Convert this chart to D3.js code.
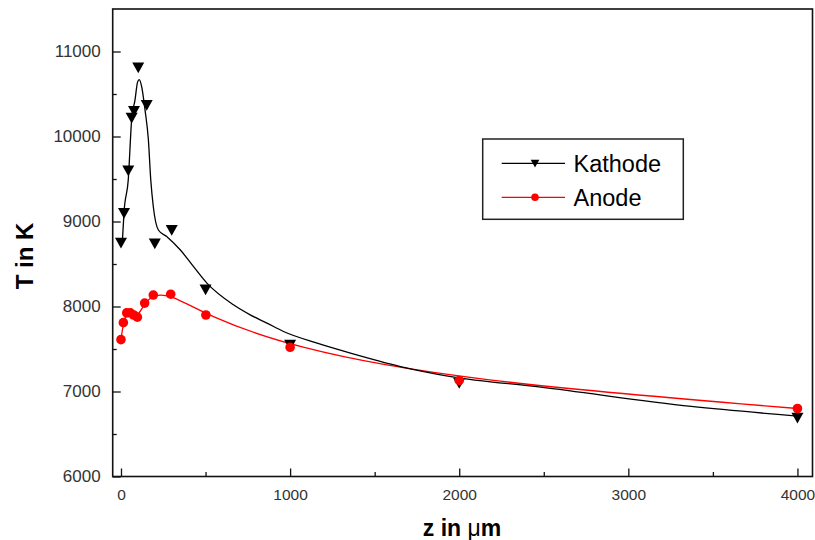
<!DOCTYPE html>
<html>
<head>
<meta charset="utf-8">
<script src="https://cdn.jsdelivr.net/npm/d3@7"></script>
<style>
  html, body { margin: 0; padding: 0; background: #fff; }
  svg { display: block; }
</style>
</head>
<body>
<svg id="chart" width="815" height="540"></svg>
<script>
// ---- data ----
const kathodeZ = [0, 18, 43, 63, 77, 102, 152, 200, 300, 500, 1000, 2000, 4000];
const kathodeT = [8750, 9100, 9600, 10220, 10300, 10810, 10370, 8740, 8900, 8200, 7550, 7100, 6690];
const anodeZ = [0, 14, 34, 55, 75, 97, 140, 191, 294, 502, 1000, 2000, 4000];
const anodeT = [7610, 7810, 7925, 7925, 7900, 7875, 8040, 8135, 8145, 7900, 7520, 7130, 6800];
// fitted curve drawn for the Kathode series
const kathodeFitZ = [8, 18, 43, 63, 83, 98, 108, 122, 142, 162, 176, 191, 221, 270, 350, 428, 508, 665, 764, 863, 961, 1160, 1357, 1653, 1950, 2483, 3372, 3984];
const kathodeFitT = [8760, 9110, 9490, 10196, 10432, 10640, 10670, 10590, 10314, 9961, 9491, 9176, 8900, 8824, 8667, 8471, 8275, 8020, 7902, 7805, 7706, 7569, 7452, 7294, 7176, 7052, 6824, 6714];
const xMajorTicks = [0, 1000, 2000, 3000, 4000];
const xMinorTicks = [500, 1500, 2500, 3500];
const yMajorTicks = [6000, 7000, 8000, 9000, 10000, 11000];
const yMinorTicks = [6500, 7500, 8500, 9500, 10500];
const seriesNames = ["Kathode", "Anode"];
const xLabel = ["z in ", "\u03bc", "m"];
const yLabel = "T in K";

// ---- layout ----
const svg = d3.select("#chart");
const L = 112.7, R = 812.5, T = 9, B = 476.5;
const x = d3.scaleLinear().domain([-49, 4089]).range([L, R]);
const y = d3.scaleLinear().domain([6000, 11500]).range([B, T]);

const font = "Arial, 'Liberation Sans', sans-serif";

// axes with inward ticks
const xAxis = svg.append("g").attr("transform", `translate(0,${B})`)
  .call(d3.axisBottom(x).tickValues(xMajorTicks).tickSizeInner(-8).tickSizeOuter(0).tickPadding(12).tickFormat(d3.format("d")));
const xAxisMinor = svg.append("g").attr("transform", `translate(0,${B})`)
  .call(d3.axisBottom(x).tickValues(xMinorTicks).tickSizeInner(-4.5).tickSizeOuter(0).tickFormat(""));
const yAxis = svg.append("g").attr("transform", `translate(${L},0)`)
  .call(d3.axisLeft(y).tickValues(yMajorTicks).tickSizeInner(-8).tickSizeOuter(0).tickPadding(12).tickFormat(d3.format("d")));
const yAxisMinor = svg.append("g").attr("transform", `translate(${L},0)`)
  .call(d3.axisLeft(y).tickValues(yMinorTicks).tickSizeInner(-4).tickSizeOuter(0).tickFormat(""));

[xAxis, xAxisMinor, yAxis, yAxisMinor].forEach(g => {
  g.select(".domain").remove();
  g.selectAll(".tick line").attr("stroke", "#111").attr("stroke-width", 1.3);
  g.selectAll(".tick text").attr("fill", "#333").style("font-family", font);
});
yAxis.selectAll(".tick text").style("font-size", "17px");
xAxis.selectAll(".tick text").style("font-size", "15.5px");

// frame
svg.append("rect").attr("x", L).attr("y", T).attr("width", R - L).attr("height", B - T)
  .attr("fill", "none").attr("stroke", "#111").attr("stroke-width", 1.6);

// lines
const kathodeFit = kathodeFitZ.map((z, i) => [z, kathodeFitT[i]]);
const kathode = kathodeZ.map((z, i) => [z, kathodeT[i]]);
const anode = anodeZ.map((z, i) => [z, anodeT[i]]);

const fitLine = d3.line().x(d => x(d[0])).y(d => y(d[1])).curve(d3.curveMonotoneX);
const splineLine = d3.line().x(d => x(d[0])).y(d => y(d[1])).curve(d3.curveBasis);

svg.append("path").datum(anode).attr("d", splineLine)
  .attr("fill", "none").attr("stroke", "#ff0000").attr("stroke-width", 1.3);
svg.append("path").datum(kathodeFit).attr("d", fitLine)
  .attr("fill", "none").attr("stroke", "#000").attr("stroke-width", 1.3);

// markers
const triDown = (s) => `M${-s},${-s * 0.85}L${s},${-s * 0.85}L0,${s * 0.95}Z`;

svg.append("g").selectAll("path").data(kathode).join("path")
  .attr("transform", d => `translate(${x(d[0])},${y(d[1])})`)
  .attr("d", triDown(6)).attr("fill", "#000");

svg.append("g").selectAll("circle").data(anode).join("circle")
  .attr("cx", d => x(d[0])).attr("cy", d => y(d[1])).attr("r", 4.8).attr("fill", "#ff0000");

// legend
const lg = svg.append("g");
lg.append("rect").attr("x", 482.7).attr("y", 139).attr("width", 200.6).attr("height", 80.3)
  .attr("fill", "#fff").attr("stroke", "#222").attr("stroke-width", 1.5);
const legendRows = [
  { name: seriesNames[0], color: "#000", y: 163.3, type: "tri" },
  { name: seriesNames[1], color: "#ff0000", y: 197.3, type: "circ" }
];
legendRows.forEach(r => {
  lg.append("line").attr("x1", 501.7).attr("x2", 565).attr("y1", r.y).attr("y2", r.y)
    .attr("stroke", r.color).attr("stroke-width", 1.3);
  if (r.type === "tri") {
    lg.append("path").attr("transform", `translate(535,${r.y})`).attr("d", triDown(4.3)).attr("fill", r.color);
  } else {
    lg.append("circle").attr("cx", 535).attr("cy", r.y).attr("r", 3.8).attr("fill", r.color);
  }
  lg.append("text").attr("x", 573.5).attr("y", r.y).attr("dy", "0.36em")
    .style("font-family", font).style("font-size", "23.5px").attr("fill", "#000").text(r.name);
});

// axis titles
const xt = svg.append("text").attr("x", 462).attr("y", 536).attr("text-anchor", "middle")
  .style("font-family", font).style("font-size", "23px").style("font-weight", "bold").attr("fill", "#000");
xt.append("tspan").text(xLabel[0]);
xt.append("tspan").style("font-weight", "normal").text(xLabel[1]);
xt.append("tspan").text(xLabel[2]);

svg.append("text").attr("transform", "translate(33,256) rotate(-90)").attr("text-anchor", "middle")
  .style("font-family", font).style("font-size", "24px").style("font-weight", "bold").attr("fill", "#000")
  .text(yLabel);
</script>
</body>
</html>
